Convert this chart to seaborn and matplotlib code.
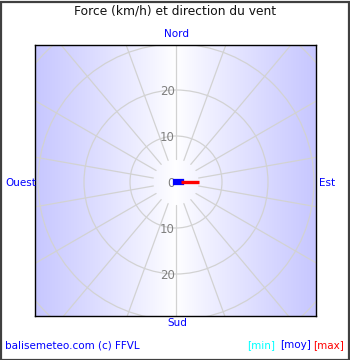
import numpy as np
import pandas as pd
import matplotlib
matplotlib.use("Agg")
import matplotlib.pyplot as plt
from matplotlib.patches import Circle, Rectangle
import seaborn as sns

# ---- data ----
title = "Force (km/h) et direction du vent"
cardinals = ["Nord", "Est", "Sud", "Ouest"]
wind_direction_deg = [90, 90]          # direction of the moy / max segments
segment_start = [0, 1]                 # km/h
segment_end = [1, 5]                   # km/h
segment_names = ["moy", "max"]
ring_values = [10, 20, 30, 40]
radial_tick_values = [0, 10, 20]
spoke_angles = list(range(0, 360, 20))
footer = "balisemeteo.com (c) FFVL"
legend_labels = ["[min]", "[moy]", "[max]"]

sns.set_style("white")
plt.rcParams["font.family"] = ["DejaVu Sans"]

W, H = 350, 360
fig = plt.figure(figsize=(W / 100, H / 100), dpi=100)
fig.patch.set_facecolor("white")

# axes box in pixel coords
L, R, T, B = 35, 316, 45, 316
cx, cy = 176, 182
ppu = 4.6
ax = fig.add_axes([L / W, 1 - B / H, (R - L) / W, (B - T) / H])
ax.set_xlim((L - cx) / ppu, (R - cx) / ppu)
ax.set_ylim((cy - B) / ppu, (cy - T) / ppu)
ax.set_xticks([]); ax.set_yticks([])
for s in ax.spines.values():
    s.set_color("black"); s.set_linewidth(1)

# horizontal gradient background
xs = np.linspace(-1, 1, 300)
t = np.abs(xs) ** 0.9
edge = np.array([0.78, 0.78, 1.0])
center = np.array([1.0, 1.0, 1.0])
grad = center[None, :] * (1 - t[:, None]) + edge[None, :] * t[:, None]
ax.imshow(grad[None, :, :], extent=[0, 1, 0, 1], transform=ax.transAxes,
          aspect="auto", zorder=0)

grid_c = "#d2d2d2"
for rv in ring_values:
    ax.add_patch(Circle((0, 0), rv, fill=False, edgecolor=grid_c, lw=0.9, zorder=1))
for a in spoke_angles:
    th = np.deg2rad(a)
    ax.plot([5 * np.sin(th), 60 * np.sin(th)], [5 * np.cos(th), 60 * np.cos(th)],
            color=grid_c, lw=0.9, zorder=1)

# radial tick labels
for v in radial_tick_values:
    ax.text(-0.3, v - 0.4, str(v), ha="right", va="center", color="#808080", fontsize=8.5, zorder=3)
    if v != 0:
        ax.text(-0.3, -v - 0.4, str(v), ha="right", va="center", color="#808080", fontsize=8.5, zorder=3)

# wind segments
colors = {"moy": "#0000ff", "max": "#ff0000"}
widths = {"moy": 4.5, "max": 2.4}
caps = {"moy": "projecting", "max": "butt"}
for d, r0, r1, name in zip(wind_direction_deg, segment_start, segment_end, segment_names):
    th = np.deg2rad(d)
    df = pd.DataFrame({"x": [r0 * np.sin(th), r1 * np.sin(th)],
                       "y": [r0 * np.cos(th), r1 * np.cos(th)]})
    sns.lineplot(data=df, x="x", y="y", ax=ax, color=colors[name], lw=widths[name],
                 estimator=None, sort=False, solid_capstyle=caps[name], zorder=4)
ax.set_xlabel(""); ax.set_ylabel("")

def ftext(x, y, s, **kw):
    fig.text(x / W, 1 - y / H, s, **kw)

ftext(175, 11, title, ha="center", va="center", fontsize=8.8, color="#111111")
ftext(177, 34, cardinals[0], ha="center", va="center", fontsize=7.5, color="#0000ff")
ftext(319, 183, cardinals[1], ha="left", va="center", fontsize=7.5, color="#0000ff")
ftext(177, 323, cardinals[2], ha="center", va="center", fontsize=7.5, color="#0000ff")
ftext(5, 183, cardinals[3], ha="left", va="center", fontsize=7.5, color="#0000ff")
ftext(5, 345, footer, ha="left", va="center", fontsize=7.5, color="#0000ff")
ftext(275, 345, legend_labels[0], ha="right", va="center", fontsize=7.5, color="#00ffff")
ftext(311, 345, legend_labels[1], ha="right", va="center", fontsize=7.5, color="#0000ff")
ftext(344, 345, legend_labels[2], ha="right", va="center", fontsize=7.5, color="#ff0000")

fig.patches.append(Rectangle((0.5 / W, 0.5 / H), 1 - 2 / W, 1 - 2 / H, transform=fig.transFigure,
                             fill=False, edgecolor="#404040", lw=1.6))

fig.savefig("out.png", dpi=100)
